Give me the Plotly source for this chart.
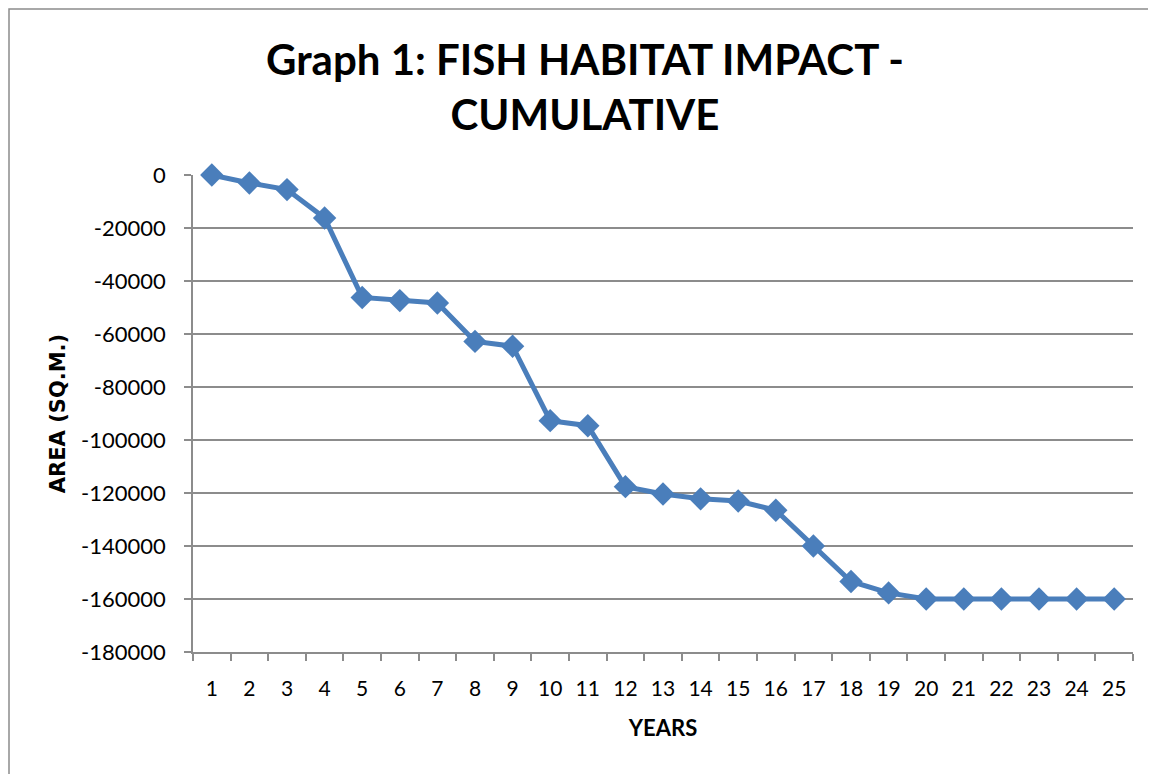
import plotly.graph_objects as go

years = [str(i) for i in range(1, 26)]
area = [0, -3000, -5500, -16200, -46200, -47400, -48300, -62800, -64600, -92700,
        -94600, -117600, -120400, -122200, -123000, -126500, -140000, -153400, -157700, -160000,
        -160000, -160000, -160000, -160000, -160000]
y_ticks = [0, -20000, -40000, -60000, -80000, -100000, -120000, -140000, -160000, -180000]

FONT = "Lato"
GRID = "#8c8c8c"

fig = go.Figure()
fig.add_trace(go.Scatter(
    x=years, y=area, mode="lines+markers",
    line=dict(color="#4a7ebb", width=5),
    marker=dict(symbol="diamond", size=18, color="#4a7ebb"),
    showlegend=False, hoverinfo="x+y", cliponaxis=False,
))

# page is offset by 8px (body margin), so figure coordinates = page - 8
OFF = 8
W, H = 1148, 766
L, R, T, B = 193 - OFF, 1133 - OFF, 175 - OFF, 652 - OFF
fig.update_layout(
    width=W, height=H,
    margin=dict(l=L, r=W - R, t=T, b=H - B, autoexpand=False),
    paper_bgcolor="white", plot_bgcolor="white",
    font=dict(family=FONT, color="black"),
    title=dict(text="<b>Graph 1: FISH HABITAT IMPACT -<br>CUMULATIVE</b>",
               x=(585 - OFF) / W, xanchor="center", y=1 - (75 - OFF) / H, yanchor="middle",
               font=dict(size=42, family=FONT, color="black")),
    xaxis=dict(type="category", tickson="boundaries", ticks="outside", ticklen=7,
               tickcolor=GRID, tickwidth=1.5, showline=True, linecolor=GRID, linewidth=1.5,
               showgrid=False, tickfont=dict(size=21, family=FONT), ticklabelstandoff=17,
               title=dict(text="<b>YEARS</b>", font=dict(size=22, family=FONT), standoff=22),
               range=[-0.5, 24.5]),
    yaxis=dict(range=[-180000, 0], tickvals=y_ticks, ticktext=[str(v) for v in y_ticks],
               ticks="outside", ticklen=7, tickcolor=GRID, tickwidth=1.5,
               showline=True, linecolor=GRID, linewidth=1.5,
               showgrid=True, gridcolor=GRID, gridwidth=1.5, zeroline=False,
               tickfont=dict(size=22, family=FONT), ticklabelstandoff=14,
               title=dict(text="<b>AREA (SQ.M.)</b>", font=dict(size=21, family="DejaVu Sans"), standoff=10)),
)

pw, ph = R - L, B - T
fig.add_shape(type="rect", xref="paper", yref="paper",
              x0=(1 - L) / pw, x1=(W + 20 - L) / pw,
              y0=(B - (H + 20)) / ph, y1=(B - 1) / ph,
              line=dict(color="#8c8c8c", width=1.5), fillcolor="rgba(0,0,0,0)", layer="below")

fig.write_html("out.html")
